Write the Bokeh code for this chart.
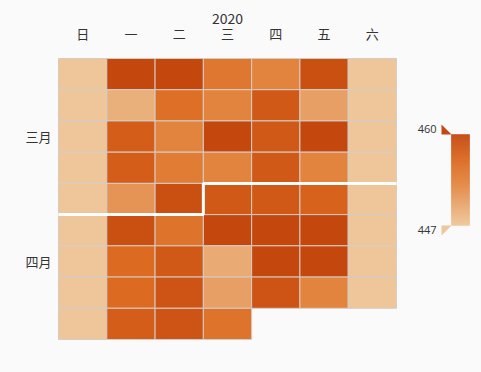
import numpy as np
import pandas as pd
from bokeh.plotting import figure
from bokeh.models import Range1d, LinearColorMapper, ColumnDataSource
from bokeh.embed import file_html
from bokeh.resources import INLINE
from bokeh.core.properties import value
from bokeh.transform import transform

# ---------------- data ----------------
year_label = "2020"
start_date = "2020-03-01"
weekday_labels = ["日", "一", "二", "三", "四", "五", "六"]
month_labels = ["三月", "四月"]
# daily values 2020-03-01 .. 2020-04-29
march_values = [
    447, 460, 460, 454.5, 453, 459, 447,
    447, 449, 455.5, 453, 458, 450.5, 447,
    447, 457.5, 453, 460, 458, 460, 447,
    447, 457.5, 454, 453, 458, 453, 447,
    447, 451.5, 459,
]
april_values = [
    458, 458, 457, 447,
    447, 459, 455, 460, 460, 460, 447,
    447, 456, 458, 449.5, 460, 460, 447,
    447, 456, 458.5, 450.5, 458.5, 453, 447,
    447, 457.5, 458.5, 455,
]
vmin, vmax = 447, 460
color_stops = ["#EEC69A", "#E38540", "#DC6A20", "#C4470D"]
stop_pos = [0.0, 0.45, 0.7, 1.0]

# ---------------- palette ----------------
def hex2rgb(h):
    h = h.lstrip("#")
    return np.array([int(h[i:i + 2], 16) for i in (0, 2, 4)], dtype=float)

stops_rgb = np.array([hex2rgb(c) for c in color_stops])
tt = np.linspace(0, 1, 256)
palette = []
for t in tt:
    rgb = [np.interp(t, stop_pos, stops_rgb[:, k]) for k in range(3)]
    palette.append("#%02x%02x%02x" % tuple(int(round(c)) for c in rgb))
mapper = LinearColorMapper(palette=palette, low=vmin, high=vmax)

# ---------------- calendar layout ----------------
values = march_values + april_values
dates = pd.date_range(start_date, periods=len(values), freq="D")
first_col = (dates[0].dayofweek + 1) % 7
cols = [(d.dayofweek + 1) % 7 for d in dates]
rows = [(i + first_col) // 7 for i in range(len(dates))]
src = ColumnDataSource(dict(
    x=[c + 0.5 for c in cols], y=[r + 0.5 for r in rows], v=values))

n_rows = max(rows) + 1

W, H = 479, 370
left_px, top_px = 58, 58
grid_w, grid_h = 338, 281
cw = grid_w / 7.0
rh = grid_h / n_rows
x0 = -left_px / cw
x1 = (W - left_px) / cw
ytop = -top_px / rh
ybot = (H - top_px) / rh

def px(xp):
    return (xp - left_px) / cw

def py(yp):
    return (yp - top_px) / rh

p = figure(width=W, height=H, x_range=Range1d(x0, x1), y_range=Range1d(ybot, ytop),
           output_backend="svg", toolbar_location=None, min_border=0,
           x_axis_location=None, y_axis_location=None,
           background_fill_color="#fafafa", border_fill_color="#fafafa",
           outline_line_color=None)
p.grid.visible = False

p.rect(x="x", y="y", width=1, height=1, source=src,
       fill_color=transform("v", mapper), line_color="#d4cdc6", line_width=1)

# month split line (boundary between months)
month_idx = [d.month for d in dates]
first_next = month_idx.index(month_idx[-1])
r1, c1 = rows[first_next], cols[first_next]
p.line([0, c1, c1, 7], [r1 + 1, r1 + 1, r1, r1], line_color="white", line_width=3)

font = value("Noto Sans CJK SC")
# year label
p.text(x=[3.5], y=[py(18)], text=[year_label], text_font=font, text_font_size="14px",
       text_color="#333333", text_align="center", text_baseline="middle")
# weekday labels
p.text(x=[i + 0.5 for i in range(7)], y=[py(33)] * 7, text=weekday_labels, text_font=font,
       text_font_size="13px", text_color="#333333", text_align="center", text_baseline="middle")
# month labels
months = sorted(set(month_idx))
mx, my = [], []
for m in months:
    rr = [rows[i] for i in range(len(dates)) if month_idx[i] == m]
    mx.append(px(51))
    my.append((min(rr) + max(rr) + 1) / 2.0)
p.text(x=mx, y=my, text=month_labels, text_font=font, text_font_size="13px",
       text_color="#333333", text_align="right", text_baseline="middle")

# ---------------- visual map ----------------
bx0, bx1 = px(451), px(469)
by_top, by_bot = py(134), py(225)
levels = np.linspace(vmin, vmax, 92)
def vy(v):
    return by_top + (vmax - v) / (vmax - vmin) * (by_bot - by_top)
qs = ColumnDataSource(dict(
    left=[bx0] * (len(levels) - 1), right=[bx1] * (len(levels) - 1),
    top=[vy(levels[i + 1]) for i in range(len(levels) - 1)],
    bottom=[vy(levels[i]) for i in range(len(levels) - 1)],
    v=[(levels[i] + levels[i + 1]) / 2 for i in range(len(levels) - 1)]))
p.quad(left="left", right="right", top="top", bottom="bottom", source=qs,
       fill_color=transform("v", mapper), line_color=transform("v", mapper), line_width=0.5)

hx0 = px(441)
hs = 10
p.patches(xs=[[hx0, hx0, bx0], [hx0, hx0, bx0]],
          ys=[[by_top - hs / rh, by_top, by_top], [by_bot + hs / rh, by_bot, by_bot]],
          fill_color=[palette[-1], palette[0]], line_color=None)

p.text(x=[px(436)] * 2, y=[py(128), py(229)],
       text=[str(vmax), str(vmin)], text_font=value("Open Sans"), text_font_size="11px",
       text_color="#333333", text_align="right", text_baseline="middle")

html = file_html(p, INLINE)
html = html.replace("</head>", "<style>html,body{background:#fafafa;}</style></head>", 1)
open("out.html", "w").write(html)
